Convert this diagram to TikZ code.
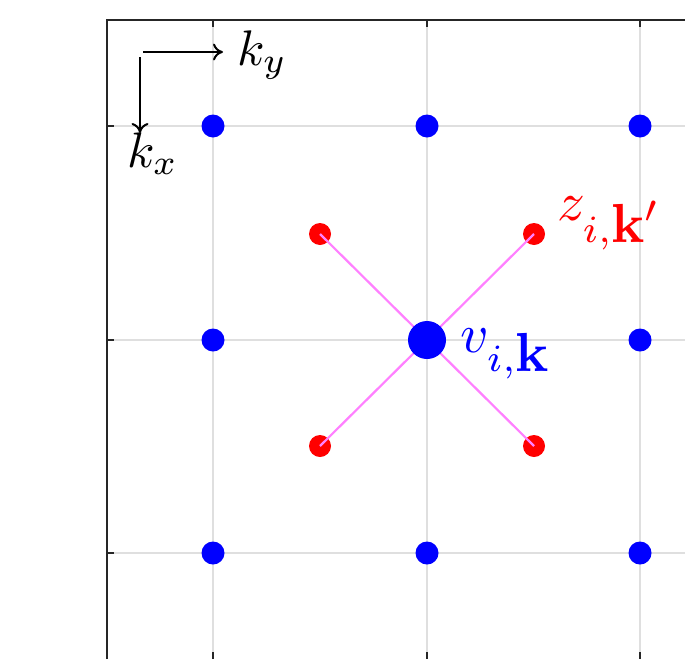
\documentclass[tikz,border=0pt]{standalone}
\usetikzlibrary{arrows.meta}
\definecolor{axisgray}{RGB}{38,38,38}
\definecolor{gridgray}{RGB}{223,223,223}
\definecolor{linkmag}{RGB}{255,128,255}
\begin{document}
\begin{tikzpicture}[x=1pt,y=-1pt,
  gridline/.style={draw=gridgray,line width=2.2pt},
  axisline/.style={draw=axisgray,line width=2.2pt},
  bluedot/.style={circle,fill=blue,inner sep=0pt,minimum size=23pt},
  bigdot/.style={circle,fill=blue,inner sep=0pt,minimum size=38pt},
  reddot/.style={circle,fill=red,inner sep=0pt,minimum size=22pt},
  link/.style={draw=linkmag,line width=2.2pt},
  dirarrow/.style={draw=black,line width=2pt,-{Computer Modern Rightarrow[length=10pt,width=17pt,line width=2pt]}},
  lbl/.style={inner sep=0pt,anchor=base west}]
\useasboundingbox (0,0) rectangle (685,659);
% grid
\foreach \gx in {213,427,640} \draw[gridline] (\gx,20) -- (\gx,659);
\foreach \gy in {126,340,553} \draw[gridline] (107,\gy) -- (685,\gy);
% axes
\draw[axisline] (107,659) -- (107,20) -- (685,20);
\foreach \gx in {213,427,640} {\draw[axisline] (\gx,20) -- (\gx,27); \draw[axisline] (\gx,652) -- (\gx,659);}
\foreach \gy in {126,340,553} \draw[axisline] (107,\gy) -- (114,\gy);
% dots
\node[bluedot] (b11) at (213,126) {};
\node[bluedot] (b12) at (427,126) {};
\node[bluedot] (b13) at (640,126) {};
\node[bluedot] (b21) at (213,340) {};
\node[bluedot] (b23) at (640,340) {};
\node[bluedot] (b31) at (213,553) {};
\node[bluedot] (b32) at (427,553) {};
\node[bluedot] (b33) at (640,553) {};
\coordinate (c) at (427,340);
\node[reddot] (r1) at (320,234) {};
\node[reddot] (r2) at (534,234) {};
\node[reddot] (r3) at (320,446) {};
\node[reddot] (r4) at (534,446) {};
\foreach \r in {r1,r2,r3,r4} \draw[link] (\r.center) -- (c);
\node[bigdot] (center) at (c) {};
% direction arrows
\coordinate (hy0) at (143,52);
\coordinate (hy1) at (223,52);
\coordinate (vx0) at (140,57);
\coordinate (vx1) at (140,133);
\draw[dirarrow] (hy0) -- (hy1);
\draw[dirarrow] (vx0) -- (vx1);
\node[lbl,scale=5] (ky) at (236,65) {$k_y$};
\node[lbl,scale=5] (kx) at (126,167) {$k_x$};
\node[lbl,scale=5.5,text=blue] (vlab) at (459,352) {$v_{i,\mbox{$\mathbf{k}$}}$};
\node[lbl,scale=5.5,text=red] (zlab) at (556,220) {$z_{i,\mbox{$\mathbf{k}'$}}$};
\end{tikzpicture}
\end{document}
